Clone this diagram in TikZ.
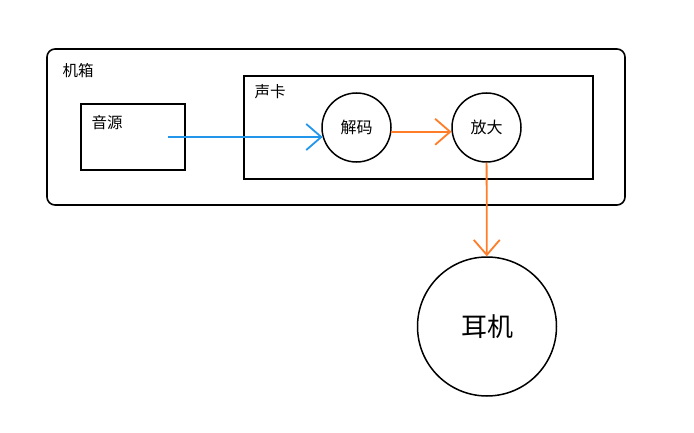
\documentclass[tikz,border=0pt]{standalone}
\usepackage{fontspec}
\setmainfont{Noto Sans CJK SC}
\usetikzlibrary{arrows.meta}
\begin{document}
\begin{tikzpicture}[x=1pt,y=-1pt,line width=1.6pt,
    unit/.style={circle,draw,line width=1.5pt,minimum size=69pt,inner sep=0pt,font=\fontsize{16}{16}\selectfont},
    lbl/.style={font=\fontsize{15.5}{15.5}\selectfont},
    flow/.style={line width=1.8pt,-{Straight Barb[length=15pt,width=26pt]}}]
    \definecolor{mysig}{RGB}{33,150,235}
    \definecolor{myamp}{RGB}{255,125,40}
    \useasboundingbox (0,0) rectangle (694,433);

    % housing, source box and sound card
    \draw[rounded corners=8pt] (47,49) rectangle (625,205);
    \draw (81,104) rectangle (185,170);
    \draw (244,76) rectangle (593,179);
    \node[lbl] (case) at (78,71) {机箱};
    \node[lbl] (src) at (107,123) {音源};
    \node[lbl] (card) at (270,92) {声卡};

    \node[unit] (dec) at (356.5,127.5) {解码};
    \node[unit] (amp) at (486.5,127.5) {放大};
    \node[unit,minimum size=139pt,font=\fontsize{26}{26}\selectfont] (ear) at (487,326.5) {耳机};

    \coordinate (out) at (168,137);
    \draw[flow, mysig] (out) -- (dec.196 |- out);
    \draw[flow, myamp] (dec.-7) -- (amp.187);
    \draw[flow, myamp] (amp) -- (ear);
\end{tikzpicture}
\end{document}
